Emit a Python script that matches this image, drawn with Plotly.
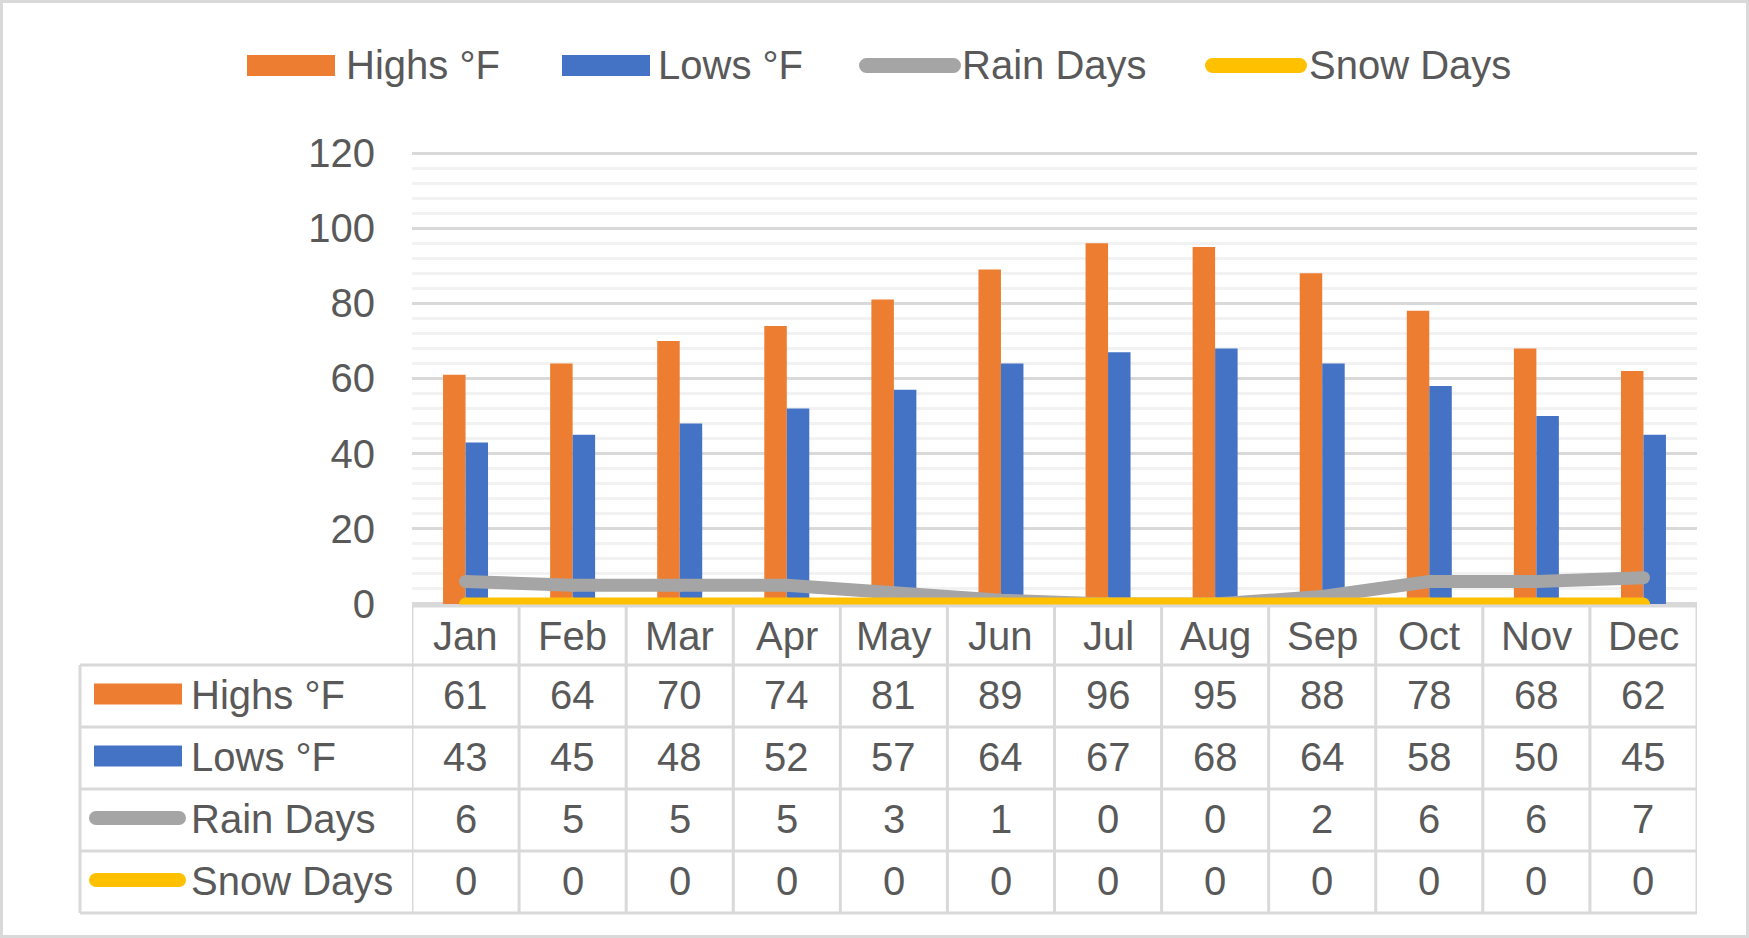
import plotly.graph_objects as go

# ---- data ----
months = ["Jan", "Feb", "Mar", "Apr", "May", "Jun", "Jul", "Aug", "Sep", "Oct", "Nov", "Dec"]
highs = [61, 64, 70, 74, 81, 89, 96, 95, 88, 78, 68, 62]
lows = [43, 45, 48, 52, 57, 64, 67, 68, 64, 58, 50, 45]
rain = [6, 5, 5, 5, 3, 1, 0, 0, 2, 6, 6, 7]
snow = [0, 0, 0, 0, 0, 0, 0, 0, 0, 0, 0, 0]
y_ticks = [0, 20, 40, 60, 80, 100, 120]

series_names = ["Highs °F", "Lows °F", "Rain Days", "Snow Days"]
series_values = [highs, lows, rain, snow]
series_colors = ["#ED7D31", "#4472C4", "#A5A5A5", "#FFC000"]
series_kind = ["bar", "bar", "line", "line"]

# ---- layout helpers (pixel -> paper) ----
W, H = 1749, 938
FONT = "Liberation Sans, Arial, sans-serif"
TXT = "#595959"
GRID = "#d9d9d9"
FS = 40


def fx(p):
    return p / W


def fy(p):
    return 1 - p / H


LINE_W = 13

fig = go.Figure()
for name, vals, col, kind in zip(series_names, series_values, series_colors, series_kind):
    if kind == "bar":
        fig.add_trace(go.Bar(x=list(range(12)), y=vals, name=name, marker_color=col,
                             marker_line_width=0, showlegend=False))
    else:
        fig.add_trace(go.Scatter(x=list(range(12)), y=vals, name=name, mode="lines+markers",
                                 line=dict(color=col, width=LINE_W),
                                 marker=dict(color=col, size=LINE_W, line=dict(width=0)),
                                 showlegend=False))

shapes = []
annotations = []

# outer border
shapes.append(dict(type="rect", xref="paper", yref="paper", x0=0, x1=1, y0=0, y1=1,
                   line=dict(color=GRID, width=6), layer="above"))

# table geometry (pixels)
tab_left, plot_left, plot_right = 80, 412, 1697
row_edges = [606, 665, 727, 789, 851, 913]
row_centers = [(row_edges[i] + row_edges[i + 1]) / 2 for i in range(5)]

# horizontal table lines
shapes.append(dict(type="line", xref="paper", yref="paper", x0=fx(plot_left), x1=fx(plot_right),
                   y0=fy(row_edges[0]), y1=fy(row_edges[0]), line=dict(color=GRID, width=3), layer="above"))
for e in row_edges[1:]:
    shapes.append(dict(type="line", xref="paper", yref="paper", x0=fx(tab_left), x1=fx(plot_right),
                       y0=fy(e), y1=fy(e), line=dict(color=GRID, width=3), layer="above"))
# vertical table lines on category boundaries
for i in range(13):
    shapes.append(dict(type="line", xref="x", yref="paper", x0=i - 0.5, x1=i - 0.5,
                       y0=fy(row_edges[0]), y1=fy(row_edges[-1]), line=dict(color=GRID, width=3), layer="above"))
shapes.append(dict(type="line", xref="paper", yref="paper", x0=fx(tab_left), x1=fx(tab_left),
                   y0=fy(row_edges[1]), y1=fy(row_edges[-1]), line=dict(color=GRID, width=3), layer="above"))

# header: month names
for i, m in enumerate(months):
    annotations.append(dict(x=i, xref="x", y=fy(row_centers[0]), yref="paper", text=m, showarrow=False,
                            xanchor="center", yanchor="middle", font=dict(size=FS, color=TXT, family=FONT)))


def key(x0, x1, yc, t, col, kind):
    if kind == "bar":
        shapes.append(dict(type="rect", xref="paper", yref="paper", x0=fx(x0), x1=fx(x1),
                           y0=fy(yc + t / 2), y1=fy(yc - t / 2), fillcolor=col, line=dict(width=0), layer="above"))
    else:
        r = t / 2
        shapes.append(dict(type="rect", xref="paper", yref="paper", x0=fx(x0 + r), x1=fx(x1 - r),
                           y0=fy(yc + r), y1=fy(yc - r), fillcolor=col, line=dict(width=0), layer="above"))
        for cx in (x0 + r, x1 - r):
            shapes.append(dict(type="circle", xref="paper", yref="paper", x0=fx(cx - r), x1=fx(cx + r),
                               y0=fy(yc + r), y1=fy(yc - r), fillcolor=col, line=dict(width=0), layer="above"))


# table rows
for k, (name, vals, col, kind) in enumerate(zip(series_names, series_values, series_colors, series_kind)):
    yc = row_centers[k + 1]
    if kind == "bar":
        key(94, 182, yc - 2, 21, col, kind)
    else:
        key(89, 186, yc - 2, 14, col, kind)
    annotations.append(dict(x=fx(189), xref="paper", y=fy(yc - 1), yref="paper", text=name, showarrow=False,
                            xanchor="left", yanchor="middle", font=dict(size=FS, color=TXT, family=FONT)))
    for i, v in enumerate(vals):
        annotations.append(dict(x=i, xref="x", y=fy(yc - 1), yref="paper", text=str(v), showarrow=False,
                                xanchor="center", yanchor="middle", font=dict(size=FS, color=TXT, family=FONT)))

# top legend
leg_y = 65.5
leg_items = [(247, 335, 344), (562, 650, 656), (859, 961, 960), (1205, 1307, 1307)]
for (x0, x1, tx), name, col, kind in zip(leg_items, series_names, series_colors, series_kind):
    if kind == "bar":
        key(x0, x1, leg_y, 21, col, kind)
    else:
        key(x0, x1, leg_y, 15, col, kind)
    annotations.append(dict(x=fx(tx), xref="paper", y=fy(leg_y), yref="paper", text=name, showarrow=False,
                            xanchor="left", yanchor="middle", font=dict(size=FS, color=TXT, family=FONT)))

# y scale: 3.758 px per unit; range padded a little so the 120 gridline is drawn
PX_PER_UNIT = (607 - 153) / 120.8
Y_TOP = 121.0
plot_top_px = 153 - (Y_TOP - 120) * PX_PER_UNIT

fig.update_layout(
    width=W, height=H, autosize=False,
    margin=dict(l=0, r=0, t=0, b=0, pad=0, autoexpand=False),
    paper_bgcolor="white", plot_bgcolor="white",
    barmode="group", bargap=0.58, bargroupgap=0,
    showlegend=False,
    shapes=shapes, annotations=annotations,
    font=dict(family=FONT, color=TXT, size=FS),
    xaxis=dict(domain=[fx(plot_left), fx(plot_right)], range=[-0.5, 11.5], showticklabels=False,
               showgrid=False, zeroline=False, showline=False, ticks="", automargin=False),
    yaxis=dict(domain=[fy(607), fy(plot_top_px)], range=[-0.8, Y_TOP], tickvals=y_ticks, automargin=False,
               showgrid=True, gridcolor=GRID, gridwidth=2.5, zeroline=False, showline=False, ticks="",
               tickfont=dict(size=FS, color=TXT, family=FONT), ticklabelstandoff=36,
               minor=dict(tickvals=list(range(4, 120, 4)), showgrid=True, gridcolor="#f2f2f2",
                          gridwidth=2.5, ticks="")),
)

fig.write_html("out.html", config={"displayModeBar": False},
               post_script="document.body.style.margin='0';")
